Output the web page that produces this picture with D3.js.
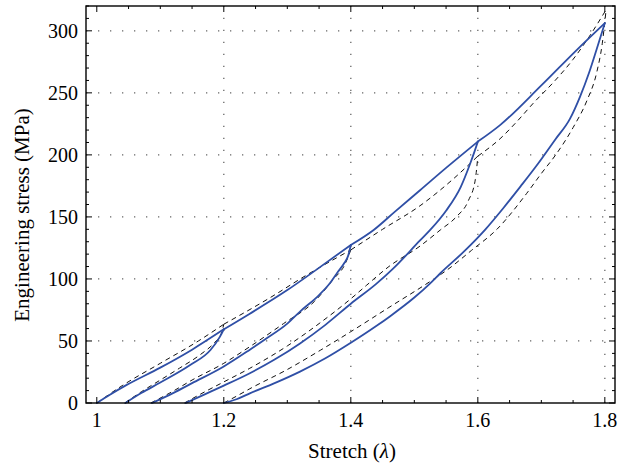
<!DOCTYPE html>
<html lang="en">
  <head>
    <meta charset="UTF-8" />
    <title>Engineering stress vs stretch</title>
    <script src="https://d3js.org/d3.v7.min.js"></script>
    <style>
      body { margin: 0; background: #fff; }
    </style>
  </head>
  <body>
    <svg width="629" height="468"></svg>

    <script>
      // blue solid: measured curves, [stretch, stress]
      const expLoading = [
        [1.0, 0], [1.02, 6.5], [1.045, 14], [1.1, 28.5], [1.15, 43], [1.2, 59.4],
        [1.241, 72], [1.3, 91], [1.346, 107.5], [1.4, 127.4],
        [1.436, 139.5], [1.47, 154.5], [1.509, 171.5], [1.55, 189.5], [1.6, 210.7],
        [1.635, 224], [1.7, 256], [1.756, 284.7], [1.8, 306.2]
      ];
      const expUnload1 = [
        [1.045, 0], [1.07, 8], [1.1, 16.5], [1.147, 30.6], [1.179, 42.7],
        [1.194, 53.5], [1.2, 59.4]
      ];
      const expUnload2 = [
        [1.087, 0], [1.12, 8], [1.15, 16], [1.2, 29.5], [1.241, 43], [1.267, 52],
        [1.3, 64], [1.32, 73.7], [1.35, 87], [1.367, 96.5], [1.38, 106],
        [1.39, 113], [1.396, 119], [1.4, 127.4]
      ];
      const expUnload3 = [
        [1.14, 0], [1.17, 7], [1.2, 14], [1.241, 24], [1.28, 35], [1.32, 48],
        [1.36, 63], [1.4, 80], [1.44, 96], [1.467, 108.5], [1.509, 131],
        [1.525, 139.5], [1.55, 155], [1.573, 174], [1.588, 193], [1.595, 203],
        [1.6, 210.7]
      ];
      const expUnload4 = [
        [1.2, 0], [1.22, 3], [1.241, 7.8], [1.28, 16], [1.32, 25.3], [1.36, 36],
        [1.4, 48.5], [1.44, 62], [1.462, 70], [1.5, 85], [1.525, 96.5],
        [1.541, 104.6], [1.58, 123], [1.612, 140], [1.64, 157], [1.667, 174.4],
        [1.695, 193], [1.722, 212.4], [1.745, 229], [1.761, 247], [1.775, 266],
        [1.787, 285], [1.795, 298], [1.8, 306.2]
      ];

      // black dashed: model curves
      const modelLoading = [
        [1.0, 0], [1.04, 14], [1.1, 32], [1.16, 50], [1.2, 63.5],
        [1.27, 84], [1.33, 103], [1.4, 123.4],
        [1.45, 140], [1.509, 159], [1.56, 180], [1.6, 199],
        [1.635, 213], [1.66, 226], [1.688, 242], [1.72, 259], [1.75, 277],
        [1.775, 295], [1.802, 317]
      ];
      const modelUnload1 = [
        [1.044, 0], [1.07, 9], [1.1, 18.5], [1.13, 28], [1.163, 39],
        [1.185, 48.5], [1.196, 56], [1.2, 63.5]
      ];
      const modelUnload2 = [
        [1.085, 0], [1.12, 9.5], [1.15, 18.5], [1.2, 32], [1.241, 45.4],
        [1.294, 64], [1.343, 82], [1.373, 100], [1.39, 111], [1.4, 123.4]
      ];
      const modelUnload3 = [
        [1.138, 0], [1.17, 9], [1.2, 17], [1.241, 28], [1.3, 46], [1.35, 64],
        [1.4, 84], [1.425, 95], [1.46, 110], [1.509, 126.5], [1.541, 139.5],
        [1.566, 150], [1.585, 163], [1.596, 180], [1.6, 199]
      ];
      const modelUnload4 = [
        [1.2, 0], [1.22, 5.5], [1.241, 11.5], [1.3, 27], [1.352, 42.5], [1.4, 57.5],
        [1.46, 77], [1.525, 98], [1.551, 107], [1.59, 123], [1.63, 140],
        [1.677, 169], [1.7, 185], [1.724, 201], [1.75, 222], [1.772, 244],
        [1.787, 266], [1.796, 290], [1.802, 317]
      ];

      // maximum stretch of each cycle: loading curves have a corner there
      const peaks = [1.2, 1.4, 1.6];
      const xTicks = [1, 1.2, 1.4, 1.6, 1.8];
      const yTicks = [0, 50, 100, 150, 200, 250, 300];

      const svg = d3.select("svg");
      const font = "Liberation Serif, DejaVu Serif, serif";
      const plotLeft = 86, plotRight = 615, plotTop = 6, plotBottom = 403;

      const x = d3.scaleLinear().domain([0.983, 1.816]).range([plotLeft, plotRight]);
      const y = d3.scaleLinear().domain([0, 320]).range([plotBottom, plotTop]);

      // cut a loading curve into pieces at the peaks
      function splitAtPeaks(pts) {
        const parts = [[]];
        pts.forEach(p => {
          parts[parts.length - 1].push(p);
          if (peaks.includes(p[0])) parts.push([p]);
        });
        return parts.filter(a => a.length > 1);
      }

      // dotted grid
      const grid = svg.append("g")
        .attr("stroke", "#666")
        .attr("stroke-width", 1.3)
        .attr("stroke-dasharray", "1.3,10.7");
      grid.selectAll(".gx").data(xTicks.slice(1)).join("line")
        .attr("x1", d => x(d)).attr("x2", d => x(d))
        .attr("y1", plotBottom).attr("y2", plotTop);
      grid.selectAll(".gy").data(yTicks.slice(1)).join("line")
        .attr("x1", plotLeft).attr("x2", plotRight)
        .attr("y1", d => y(d)).attr("y2", d => y(d));

      // curves
      const line = d3.line()
        .x(d => x(d[0]))
        .y(d => y(d[1]))
        .curve(d3.curveMonotoneX);

      const plot = svg.append("g");
      plot.selectAll(".model")
        .data([...splitAtPeaks(modelLoading), modelUnload1, modelUnload2, modelUnload3, modelUnload4])
        .join("path")
        .attr("d", line)
        .attr("fill", "none")
        .attr("stroke", "#111")
        .attr("stroke-width", 1)
        .attr("stroke-dasharray", "5,4");
      plot.selectAll(".exp")
        .data([...splitAtPeaks(expLoading), expUnload1, expUnload2, expUnload3, expUnload4])
        .join("path")
        .attr("d", line)
        .attr("fill", "none")
        .attr("stroke", "#2f4fa6")
        .attr("stroke-width", 1.8)
        .attr("stroke-linejoin", "round")
        .attr("stroke-linecap", "round");

      // inward ticks on all four sides
      const xMinor = d3.range(1, 1.81, 0.05);
      const yMinor = d3.range(0, 321, 10);
      const ticks = svg.append("g").attr("stroke", "#000").attr("stroke-width", 1);
      const isMajorX = d => Math.abs(d * 5 - Math.round(d * 5)) < 1e-6;
      ticks.selectAll(".tx").data(xMinor).join("path")
        .attr("d", d => {
          const len = isMajorX(d) ? 6 : 3;
          return `M${x(d)},${plotBottom}v${-len}M${x(d)},${plotTop}v${len}`;
        });
      ticks.selectAll(".ty").data(yMinor).join("path")
        .attr("d", d => {
          const len = d % 50 === 0 ? 6 : 3;
          return `M${plotLeft},${y(d)}h${len}M${plotRight},${y(d)}h${-len}`;
        });

      // frame
      svg.append("rect")
        .attr("x", plotLeft).attr("y", plotTop)
        .attr("width", plotRight - plotLeft).attr("height", plotBottom - plotTop)
        .attr("fill", "none")
        .attr("stroke", "#000")
        .attr("stroke-width", 1.4);

      // tick labels
      svg.selectAll(".xl").data(xTicks).join("text")
        .attr("x", d => x(d))
        .attr("y", plotBottom + 24)
        .attr("text-anchor", "middle")
        .attr("font-family", font)
        .attr("font-size", 20)
        .text(d => d3.format("")(d));
      svg.selectAll(".yl").data(yTicks).join("text")
        .attr("x", plotLeft - 8)
        .attr("y", d => y(d) + 7)
        .attr("text-anchor", "end")
        .attr("font-family", font)
        .attr("font-size", 20)
        .text(d => d);

      // axis titles
      const xt = svg.append("text")
        .attr("x", 352)
        .attr("y", 458)
        .attr("text-anchor", "middle")
        .attr("font-family", font)
        .attr("font-size", 21);
      xt.append("tspan").text("Stretch (");
      xt.append("tspan").attr("font-style", "italic").text("λ");
      xt.append("tspan").text(")");

      svg.append("text")
        .attr("transform", "translate(29,215) rotate(-90)")
        .attr("text-anchor", "middle")
        .attr("font-family", font)
        .attr("font-size", 21)
        .text("Engineering stress (MPa)");
    </script>
  </body>
</html>
